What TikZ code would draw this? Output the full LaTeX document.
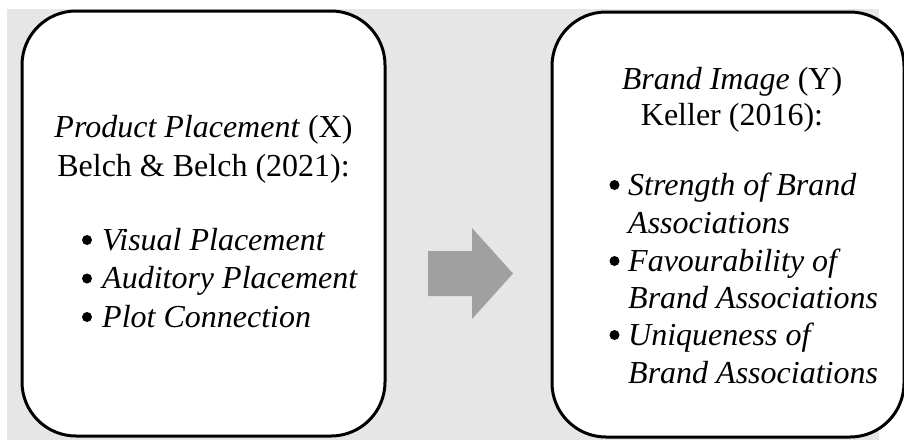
\documentclass[tikz,border=0pt]{standalone}
\usepackage{fontspec}
\setmainfont{Liberation Serif}
\definecolor{bggray}{HTML}{E6E6E6}
\definecolor{arrowgray}{HTML}{A0A0A0}
\tikzset{
  panel/.style={draw=black,line width=3pt,fill=white,rounded corners=54pt,inner sep=0pt},
  txt/.style={inner sep=0pt,font=\fontsize{32}{37.5}\selectfont},
  itemtxt/.style={txt,anchor=base west,font=\fontsize{32}{37.5}\selectfont\itshape}
}

\begin{document}
\begin{tikzpicture}[x=1pt,y=-1pt]
            \useasboundingbox (0,0) rectangle (904,440);
            \fill[bggray] (7,9) rectangle (879,440);
            \node[panel,minimum width=363pt,minimum height=425pt] (xbox) at (203.5,223.5) {};
            \node[panel,minimum width=352pt,minimum height=425pt] (ybox) at (728,224.5) {};
            \fill[arrowgray] (428,251) -- (472,251) -- (472,228) -- (513,273.5)
                -- (472,319) -- (472,296) -- (428,296) -- cycle;
            % left box
            \node[txt,anchor=base] (xhead) at (203.5,137) {\textit{Product Placement} (X)};
            \node[txt,anchor=base] (xsrc) at (203.5,176) {Belch \& Belch (2021):};
            \node[itemtxt] (xvis) at (102,250) {Visual Placement};
            \node[itemtxt] (xaud) at (102,288.5) {Auditory Placement};
            \node[itemtxt] (xplot) at (102,327) {Plot Connection};
            \fill ([xshift=-15pt,yshift=10pt]xvis.base west) circle (5pt);
            \fill ([xshift=-15pt,yshift=10pt]xaud.base west) circle (5pt);
            \fill ([xshift=-15pt,yshift=10pt]xplot.base west) circle (5pt);
            % right box
            \node[txt,anchor=base] (yhead) at (732,89) {\textit{Brand Image} (Y)};
            \node[txt,anchor=base] (ysrc) at (732,125) {Keller (2016):};
            \node[itemtxt] (ystr) at (628,195) {Strength of Brand};
            \node[itemtxt] (ystr2) at (628,233) {Associations};
            \node[itemtxt] (yfav) at (628,271) {Favourability of};
            \node[itemtxt] (yfav2) at (628,308) {Brand Associations};
            \node[itemtxt] (yuni) at (628,345) {Uniqueness of};
            \node[itemtxt] (yuni2) at (628,383) {Brand Associations};
            \fill ([xshift=-13.5pt,yshift=10pt]ystr.base west) circle (5pt);
            \fill ([xshift=-13.5pt,yshift=10pt]yfav.base west) circle (5pt);
            \fill ([xshift=-13.5pt,yshift=10pt]yuni.base west) circle (5pt);
\end{tikzpicture}
\end{document}
